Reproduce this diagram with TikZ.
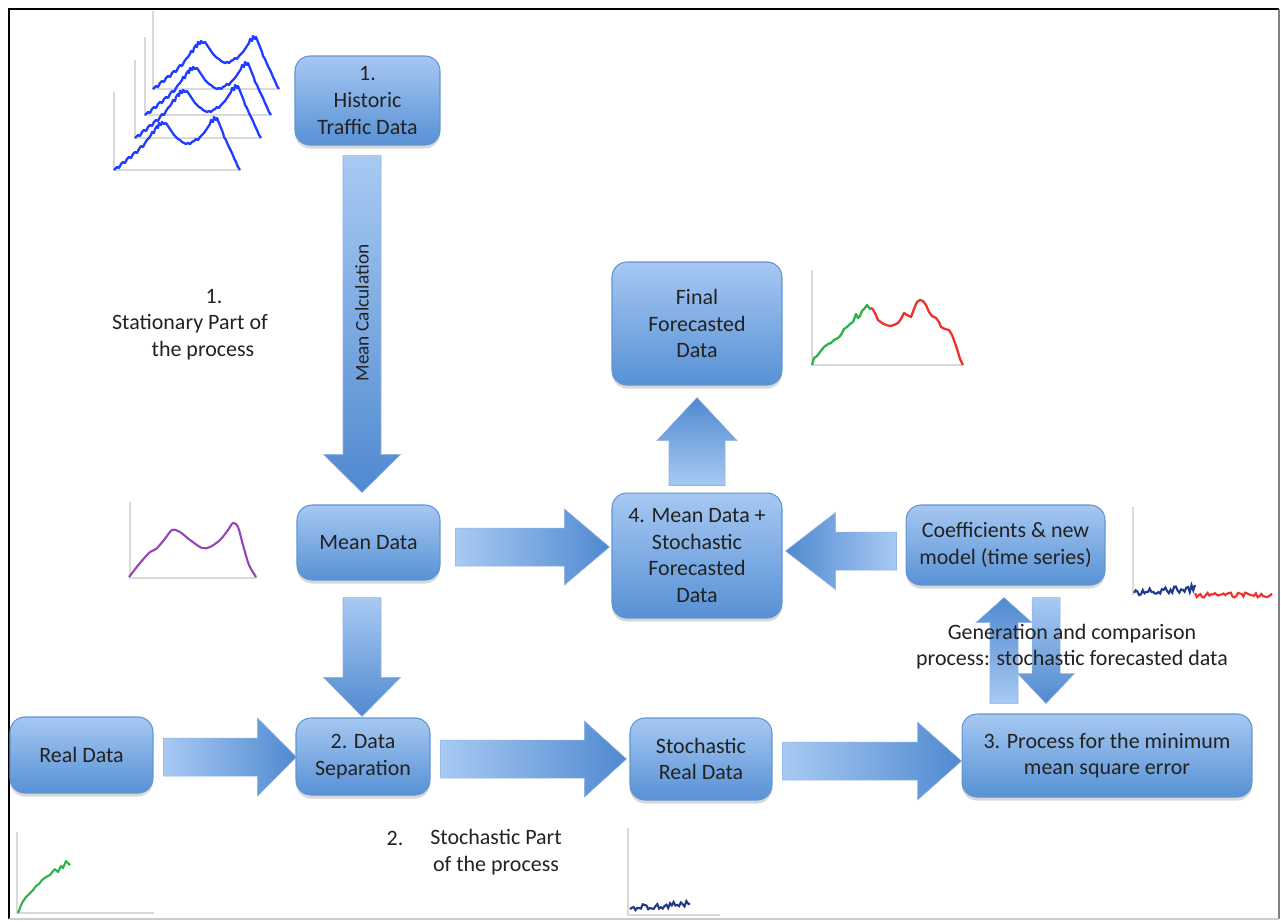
\documentclass[tikz,border=0pt]{standalone}
\usepackage{fontspec}
\setmainfont{Carlito}
\usetikzlibrary{calc,shadows}

\definecolor{boxtop}{HTML}{A6C8F2}
\definecolor{boxbot}{HTML}{5791D5}
\definecolor{boxline}{HTML}{6195D2}
\definecolor{arrlight}{HTML}{A8CAF3}
\definecolor{arrdark}{HTML}{5089D0}
\definecolor{txt}{HTML}{222222}
\definecolor{axisgray}{HTML}{D9D9D9}
\definecolor{trafficblue}{HTML}{1F3DFF}
\definecolor{meanpurple}{HTML}{9446B4}
\definecolor{realgreen}{HTML}{2DB34A}
\definecolor{forered}{HTML}{F0302A}
\definecolor{stochnavy}{HTML}{1F3A8A}

% block arrow: [shading] {start} {tip} {shaft half} {head half} {head length}, all in px
\newcommand{\blockarrow}[6][]{%
  \coordinate (ba-s) at #2;
  \coordinate (ba-t) at #3;
  \coordinate (ba-h) at ($(ba-t)!#6*0.02cm!(ba-s)$);
  \shade[#1, draw=boxline!70, line width=0.3pt]
    ($(ba-s)!#4*0.02cm!90:(ba-t)$) -- ($(ba-h)!#4*0.02cm!90:(ba-t)$)
    -- ($(ba-h)!#5*0.02cm!90:(ba-t)$) -- (ba-t)
    -- ($(ba-h)!#5*0.02cm!-90:(ba-t)$) -- ($(ba-h)!#4*0.02cm!-90:(ba-t)$)
    -- ($(ba-s)!#4*0.02cm!-90:(ba-t)$) -- cycle;
}

% one stacked traffic curve with its axes
\newcommand{\trafficcurve}[1]{%
  \begin{scope}[shift={#1}]
    \draw[chartaxis] (0,-78) -- (0,0) -- (125,0);
    \draw[trafficblue, line width=1.3pt, line join=round] plot coordinates {
      (0,0) (3,-3) (5,-2) (7,-6) (9,-8) (11,-7) (13,-11) (15,-13) (17,-12) (19,-16)
      (21,-18) (23,-17) (25,-21) (27,-24) (29,-23) (31,-27) (33,-30) (35,-32) (37,-35)
      (38,-38) (40,-37) (41,-41) (43,-44) (44,-42) (45,-47) (47,-45) (48,-48) (50,-46)
      (52,-47) (54,-44) (56,-41) (58,-38) (60,-35) (62,-33) (64,-31) (66,-30) (68,-28)
      (70,-27) (72,-26) (74,-27) (76,-26) (78,-28) (80,-29) (82,-31) (84,-30) (86,-33)
      (88,-35) (90,-37) (92,-40) (94,-43) (96,-46) (97,-50) (99,-48) (100,-53) (102,-50)
      (103,-52) (105,-47) (107,-42) (109,-37) (110,-33) (112,-30) (114,-25) (116,-21)
      (118,-17) (120,-12) (122,-8) (124,-3) (126,0)};
  \end{scope}}

\tikzset{
  stepbox/.style={draw=boxline, line width=0.6pt, rounded corners=0.3cm,
    top color=boxtop, bottom color=boxbot, align=center, text=txt,
    font=\fontsize{12.5}{15.2}\selectfont,
    drop shadow={opacity=0.3, shadow xshift=0pt, shadow yshift=-2pt}},
  note/.style={text=txt, font=\fontsize{12.5}{15.2}\selectfont, align=center},
  chartaxis/.style={draw=axisgray, line width=0.6pt},
  rightarr/.style={left color=arrlight, right color=arrdark},
  leftarr/.style={left color=arrdark, right color=arrlight},
  downarr/.style={top color=arrlight, bottom color=arrdark},
  uparr/.style={top color=arrdark, bottom color=arrlight},
}

\begin{document}
\begin{tikzpicture}[x=0.02cm, y=-0.02cm]
  \useasboundingbox (0,0) rectangle (1281,921);
  \fill[white] (0,0) rectangle (1281,921);
  % frame
  \draw[black, line width=1.4pt] (9,919) -- (9,9) -- (1279,9);
  \draw[gray, line width=1pt] (1279,9) -- (1279,919);
  \draw[gray!40, line width=0.8pt] (9,919) -- (1279,919);

  % boxes
  \node[stepbox, minimum width=2.9cm, minimum height=1.78cm] (hist) at (367.5,100.5) {1.\\Historic\\Traffic Data};
  \node[stepbox, minimum width=2.86cm, minimum height=1.5cm] (mean) at (368.5,542.5) {Mean Data};
  \node[stepbox, minimum width=2.68cm, minimum height=1.54cm] (sep) at (363,756.5) {2. Data\\Separation};
  \node[stepbox, minimum width=2.86cm, minimum height=1.52cm] (real) at (81.5,755) {Real Data};
  \node[stepbox, minimum width=2.84cm, minimum height=1.64cm] (stoch) at (701,759) {Stochastic\\Real Data};
  \node[stepbox, minimum width=5.8cm, minimum height=1.66cm] (proc) at (1107,755.5) {3. Process for the minimum\\mean square error};
  \node[stepbox, minimum width=3.4cm, minimum height=2.5cm] (sum) at (697,555.5) {4. Mean Data +\\Stochastic\\Forecasted\\Data};
  \node[stepbox, minimum width=3.98cm, minimum height=1.6cm] (coef) at (1005.5,545) {Coefficients \& new\\model (time series)};
  \node[stepbox, minimum width=3.4cm, minimum height=2.46cm] (final) at (697,323.5) {Final\\Forecasted\\Data};

  % block arrows
  \blockarrow[downarr]{($(hist.south)+(-5.5,10)$)}{($(mean.north)+(-6.5,-12)$)}{19}{38.5}{38}
  \node[rotate=90, text=txt, font=\fontsize{11}{12}\selectfont] (calc) at (362,313) {Mean Calculation};
  \blockarrow[downarr]{($(mean.south)+(-6.5,17)$)}{($(sep.north)+(-1,-1)$)}{19}{38.5}{39}
  \blockarrow[rightarr]{($(real.east)+(10,2)$)}{($(sep.west)+(1,0.5)$)}{19}{39}{39}
  \blockarrow[rightarr]{($(sep.east)+(10,2.5)$)}{($(stoch.west)+(-3,0)$)}{19}{38}{42}
  \blockarrow[rightarr]{($(stoch.east)+(10,2)$)}{($(proc.west)+(0,5.5)$)}{19}{39}{44}
  \blockarrow[rightarr]{($(mean.east)+(15,4.5)$)}{($(sum.west)+(-2,-8.5)$)}{19}{38}{45}
  \blockarrow[leftarr]{($(coef.west)+(-9,6)$)}{($(sum.east)+(3,-4.5)$)}{19}{38.5}{50}
  \blockarrow[uparr]{($(sum.north)+(0,-7)$)}{($(final.south)+(0,12)$)}{28}{40}{43}
  \blockarrow[uparr]{($(coef.south)+(-1.5,118)$)}{($(coef.south)+(-1.5,12)$)}{14}{28}{25}
  \blockarrow[downarr]{($(coef.south)+(40.5,12)$)}{($(coef.south)+(40.5,118)$)}{14}{28.5}{30}

  % free texts
  \node[note] (gen) at (1072,646.5) {Generation and comparison\\process: stochastic forecasted data};
  \node[note] (stat1) at (214,297) {1.};
  \node[note] (stat2) at (190,324) {Stationary Part of};
  \node[note] (stat3) at (203,351) {the process};
  \node[note] (part2) at (395,838) {2.};
  \node[note] (part2b) at (496,852) {Stochastic Part\\of the process};

  % historic traffic curves
  \trafficcurve{(153,89)}
  \trafficcurve{(145,115)}
  \trafficcurve{(135,138)}
  \trafficcurve{(114,170)}

  % mean curve
  \draw[chartaxis] (130,502) -- (130,578) -- (257,578);
  \draw[meanpurple, line width=1.2pt] plot[smooth] coordinates {(129,577) (140,563) (150,552)
    (156,549) (164,540) (172,530) (180,532) (190,540) (202,548) (210,547) (220,540)
    (228,530) (233,523) (238,527) (243,545) (249,565) (256,577)};

  % final forecast curve
  \draw[chartaxis] (812,270) -- (812,365) -- (963,365);
  \draw[realgreen, line width=1.3pt, line join=round] plot coordinates {(812,365) (814,358)
    (817,356) (820,352) (824,347) (828,344) (831,343) (834,340) (838,338) (841,335)
    (844,329) (847,327) (850,324) (853,322) (856,314) (858,318) (860,316) (862,311)
    (865,308) (867,305) (870,309) (872,308)};
  \draw[forered, line width=1.3pt, line join=round] plot coordinates {(872,308) (875,313)
    (878,320) (882,323) (886,325) (890,326) (894,325) (898,323) (901,319) (904,313)
    (907,315) (911,317) (914,309) (917,302) (920,300) (923,301) (926,305) (929,312)
    (932,316) (936,318) (939,322) (941,327) (945,329) (949,330) (952,335) (955,343)
    (958,352) (960,359) (963,365)};

  % coefficient model noise
  \pgfmathsetseed{7}
  \draw[chartaxis] (1133,507) -- (1133,595);
  \draw[stochnavy, line width=1.2pt] plot[domain=1134:1195, samples=36] (\x,{592-0.06*(\x-1134)+3.5*rand});
  \draw[forered, line width=1.2pt] plot[domain=1195:1272, samples=44] (\x,{595+2.5*rand});

  % real data curve
  \draw[chartaxis] (17,832) -- (17,913) -- (154,913);
  \draw[realgreen, line width=1.2pt, line join=round] plot coordinates {(18,913) (22,903)
    (26,897) (30,893) (33,890) (36,886) (39,884) (42,880) (46,877) (50,875) (53,871)
    (55,869) (58,872) (61,866) (63,868) (66,861) (68,863) (70,865)};

  % stochastic real data noise
  \draw[chartaxis] (628,828) -- (628,915) -- (720,915);
  \draw[stochnavy, line width=1.2pt] plot[domain=630:690, samples=34] (\x,{908-0.07*(\x-630)+3*rand});
\end{tikzpicture}
\end{document}
